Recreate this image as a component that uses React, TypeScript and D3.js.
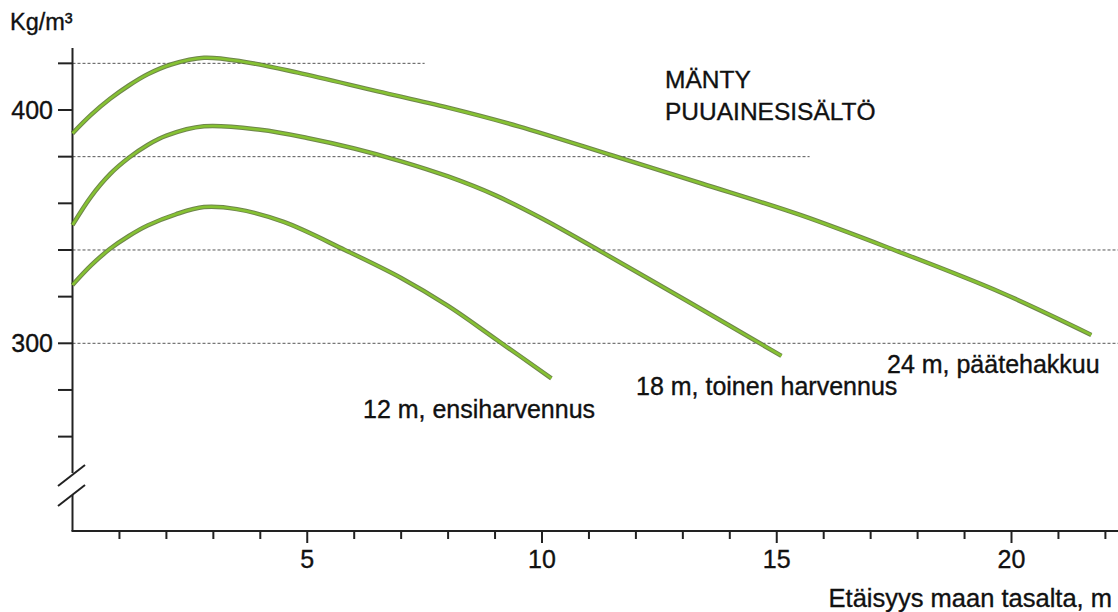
import * as d3 from "d3";

// distance from ground (m) vs wood density (kg/m³)
const curve12 = [
  [0, 325], [0.4, 333.5], [0.8, 340.5], [1.2, 346], [1.6, 350.5], [2.2, 355.3],
  [2.8, 358.4], [3.5, 357.5], [4.5, 352], [5.8, 340], [7, 328], [8, 316], [9, 302], [10.2, 285],
];
const curve18 = [
  [0, 350.7], [0.4, 363], [0.8, 372.5], [1.2, 379.5], [1.6, 385], [2, 389], [2.8, 393],
  [4, 391.5], [5, 388], [6, 383.5], [7, 378], [8, 371.5], [9, 363.5], [10, 353.5],
  [11.2, 340], [12.5, 325], [14, 307.5], [15.1, 294.6],
];
const curve24 = [
  [0, 390], [0.4, 398], [0.8, 404.8], [1.2, 410.5], [1.6, 415.3], [2.1, 419.5], [2.8, 422.4],
  [3.7, 420.5], [4.8, 416], [6.5, 408], [8, 401], [9.5, 393], [11.5, 380.5],
  [13.4, 368.5], [15.5, 355], [17.5, 340], [19.75, 322], [21.7, 303.6],
];

const seriesLabels = ["12 m, ensiharvennus", "18 m, toinen harvennus", "24 m, päätehakkuu"];

// horizontal reference lines: value and where they stop (m)
const gridValues = [420, 380, 340, 300];
const gridEnds = [7.5, 15.7, 22.3, 22.3];

const yTicks = [420, 400, 380, 360, 340, 320, 300, 280, 260];
const yTickLabels = [400, 300];
const xTicks = d3.range(1, 23);
const xTickLabels = [5, 10, 15, 20];

const W = 1118;
const H = 612;
const FONT = "'Liberation Sans', Arial, Helvetica, sans-serif";
const INK = "#111";

export default function App() {
  const x = d3.scaleLinear().domain([0, 20]).range([72.5, 1011.5]);
  const y = d3.scaleLinear().domain([300, 400]).range([343.3, 110]);

  const x0 = x(0);
  const axisY = 531;
  const axisTop = 48;
  const breakTop = 473;
  const breakBottom = 495;

  const line = d3
    .line<number[]>()
    .x((d) => x(d[0]))
    .y((d) => y(d[1]))
    .curve(d3.curveCatmullRom.alpha(0.5));

  const curves = [curve12, curve18, curve24];

  // label anchor points, below each curve end
  const labelPos = [
    { x: 363, y: 418 },
    { x: 636, y: 395 },
    { x: 887, y: 373 },
  ];

  const txt = { fill: INK, stroke: INK, strokeWidth: 0.35 };

  return (
    <svg
      width={W}
      height={H}
      style={{ position: "absolute", left: 0, top: 0, background: "#fff" }}
      fontFamily={FONT}
    >
      {/* dashed reference lines */}
      {gridValues.map((v, i) => (
        <line
          key={"g" + v}
          x1={x0}
          x2={x(gridEnds[i])}
          y1={y(v)}
          y2={y(v)}
          stroke="#555"
          strokeWidth={1}
          strokeDasharray="3,2"
        />
      ))}

      {/* y axis with break */}
      <line x1={x0} x2={x0} y1={axisTop} y2={breakTop} stroke="#222" strokeWidth={2} />
      <line x1={x0} x2={x0} y1={breakBottom} y2={axisY} stroke="#222" strokeWidth={2} />
      <line x1={58} y1={486} x2={85} y2={465} stroke="#222" strokeWidth={2} />
      <line x1={58} y1={506} x2={85} y2={485} stroke="#222" strokeWidth={2} />

      {yTicks.map((v) => (
        <line key={"yt" + v} x1={58} x2={x0} y1={y(v)} y2={y(v)} stroke="#222" strokeWidth={2} />
      ))}
      {yTickLabels.map((v) => (
        <text key={"yl" + v} x={53} y={y(v) + 9} textAnchor="end" fontSize={25} {...txt}>
          {v}
        </text>
      ))}
      <text x={10} y={30} fontSize={23.5} {...txt}>
        Kg/m³
      </text>

      {/* x axis */}
      <line x1={x0 - 1} x2={W} y1={axisY} y2={axisY} stroke="#222" strokeWidth={2} />
      {xTicks.map((t) => (
        <line
          key={"xt" + t}
          x1={x(t)}
          x2={x(t)}
          y1={axisY}
          y2={axisY + (t % 5 === 0 ? 12 : 8)}
          stroke="#222"
          strokeWidth={2}
        />
      ))}
      {xTickLabels.map((t) => (
        <text key={"xl" + t} x={x(t)} y={568} textAnchor="middle" fontSize={25} {...txt}>
          {t}
        </text>
      ))}
      <text x={1112} y={607} textAnchor="end" fontSize={25.5} {...txt}>
        Etäisyys maan tasalta, m
      </text>

      {/* curves */}
      {curves.map((c, i) => (
        <g key={"c" + i}>
          <path d={line(c as number[][]) || ""} fill="none" stroke="#55702c" strokeWidth={4.5} strokeOpacity={0.85} />
          <path d={line(c as number[][]) || ""} fill="none" stroke="#86c232" strokeWidth={2.5} />
        </g>
      ))}

      {seriesLabels.map((s, i) => (
        <text key={"s" + i} x={labelPos[i].x} y={labelPos[i].y} fontSize={25} {...txt}>
          {s}
        </text>
      ))}

      <text x={665} y={88} fontSize={24.5} {...txt}>
        MÄNTY
      </text>
      <text x={665} y={120} fontSize={24.5} {...txt}>
        PUUAINESISÄLTÖ
      </text>
    </svg>
  );
}
